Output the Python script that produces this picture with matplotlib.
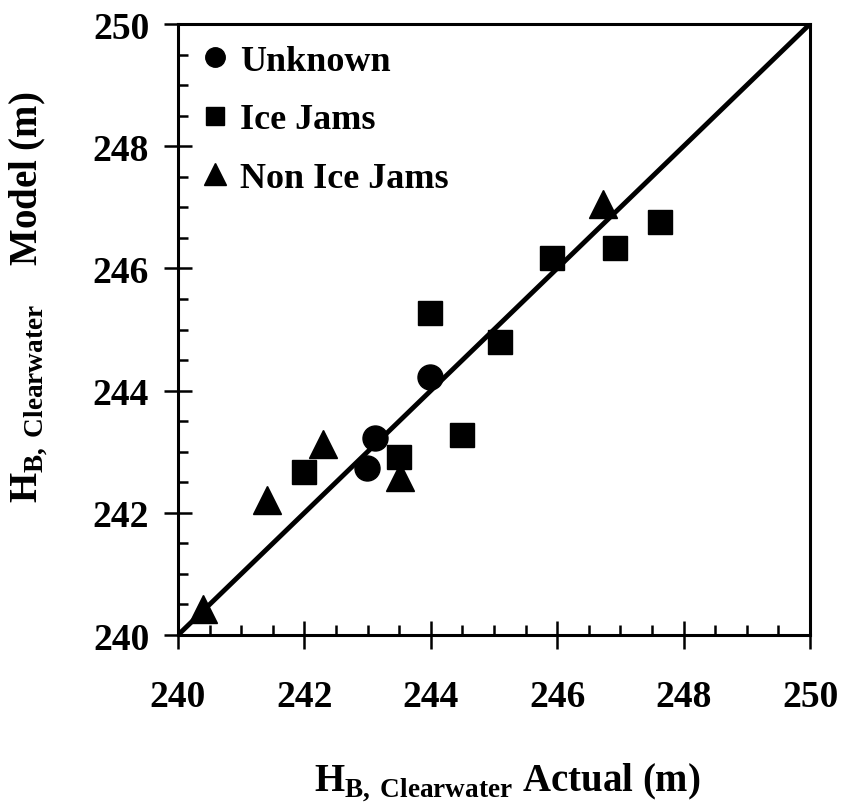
import matplotlib
matplotlib.use("Agg")
import matplotlib.pyplot as plt
from matplotlib.lines import Line2D
from matplotlib.ticker import MultipleLocator

plt.rcParams['font.family'] = ['Liberation Serif', 'DejaVu Serif']
plt.rcParams['font.weight'] = 'bold'
plt.rcParams['mathtext.fontset'] = 'custom'
plt.rcParams['mathtext.rm'] = 'Liberation Serif:bold'
plt.rcParams['mathtext.bf'] = 'Liberation Serif:bold'

# Observed vs modelled breakup water levels (m)
unknown_actual = [242.99, 243.11, 243.99]
unknown_model = [242.74, 243.23, 244.22]

icejam_actual = [242.00, 243.49, 243.99, 244.49, 245.10, 245.91, 246.91, 247.63]
icejam_model = [242.67, 242.91, 245.27, 243.27, 244.80, 246.17, 246.33, 246.76]

nonjam_actual = [240.40, 241.41, 242.29, 243.51, 246.73]
nonjam_model = [240.42, 242.21, 243.12, 242.59, 247.06]

axis_range = [240, 250]
tick_values = [240, 242, 244, 246, 248, 250]
series_labels = ['Unknown', 'Ice Jams', 'Non Ice Jams']

fig = plt.figure(figsize=(8.42, 8.12), dpi=100)
ax = fig.add_axes([0.2114, 0.2167, 0.7506, 0.7525])

# 1:1 agreement line
ax.plot(axis_range, axis_range, color='black', lw=3.5, zorder=2, solid_capstyle='butt')

ax.plot(unknown_actual, unknown_model, 'o', color='black', ms=18, zorder=3)
ax.plot(icejam_actual, icejam_model, 's', color='black', ms=17, zorder=3)
ax.plot(nonjam_actual, nonjam_model, '^', color='black', ms=19.5, zorder=3)

ax.set_xlim(axis_range)
ax.set_ylim(axis_range)
ax.set_xticks(tick_values)
ax.set_yticks(tick_values)
ax.xaxis.set_minor_locator(MultipleLocator(0.5))
ax.yaxis.set_minor_locator(MultipleLocator(0.5))
ax.tick_params(which='major', direction='inout', length=19.5, width=1.8,
               labelsize=27, top=False, right=False)
ax.tick_params(which='minor', direction='in', length=7, width=1.8,
               top=False, right=False)
ax.tick_params(axis='x', which='major', pad=22)
ax.tick_params(axis='y', which='major', pad=11)
for lab in ax.get_xticklabels() + ax.get_yticklabels():
    lab.set_fontweight('bold')
for sp in ax.spines.values():
    sp.set_linewidth(2.2)

sub = r'$\mathbf{H}_{\mathbf{B,\,Clearwater}}$'
fig.text(507 / 842, 1 - 783 / 812, sub + ' Actual (m)',
         ha='center', va='center', fontsize=28, fontweight='bold')
fig.text(29 / 842, 1 - 297 / 812, sub + '    Model (m)',
         ha='center', va='center', fontsize=28, fontweight='bold', rotation=90)

handles = [
    Line2D([], [], marker='o', color='black', ls='none', ms=14),
    Line2D([], [], marker='s', color='black', ls='none', ms=13),
    Line2D([], [], marker='^', color='black', ls='none', ms=16),
]
leg = ax.legend(handles, series_labels, loc='upper left', bbox_to_anchor=(0.01, 0.99),
                frameon=False, fontsize=26, handlelength=0.9, handletextpad=0.25,
                labelspacing=0.7, borderaxespad=0.0)
for t in leg.get_texts():
    t.set_fontweight('bold')

fig.savefig('out.png', dpi=100)
